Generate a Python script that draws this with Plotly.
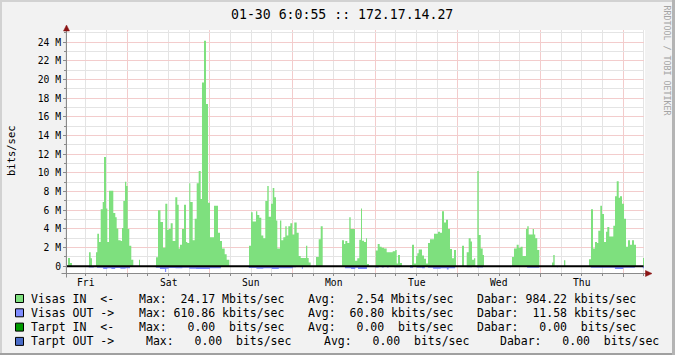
import plotly.graph_objects as go

# ---------------- data (hours since Fri 00:00, Mbit/s) ----------------
in_time = [
    6.79, 7.37, 7.95, 12.89, 13.38, 13.76, 14.92, 15.30, 15.80, 16.29, 16.87, 17.25, 17.83, 18.21, 18.70,
    19.95, 20.53, 20.93, 21.40, 22.10, 22.47, 22.85, 23.34, 23.72, 24.13, 24.59, 25.17, 25.76, 27.41, 27.70,
    32.35, 32.93, 33.65, 34.38, 35.05, 35.63, 36.03, 36.61, 37.19, 37.95, 38.53, 38.94, 39.31, 39.89, 40.48,
    41.06, 41.43, 42.01, 42.31, 43.00, 43.58, 44.16, 44.74, 45.32, 45.70, 46.28, 46.86, 47.44, 48.02, 49.19,
    50.35, 50.93, 51.51, 52.29, 52.87, 53.63,
    59.35, 59.93, 60.42, 61.38, 61.76, 62.34, 62.92, 63.50, 64.08, 64.66, 65.07, 65.74, 66.23, 66.70, 67.19,
    67.57, 68.35, 68.73, 69.31, 69.89, 70.29, 70.76, 71.34, 71.92, 72.50, 73.20, 73.78, 74.36, 75.90, 76.28,
    76.68, 77.26, 78.80, 79.59, 80.17, 80.75,
    86.35, 86.93, 87.31, 87.89, 88.47, 88.87, 90.12, 90.79, 91.37, 91.87, 92.16, 92.74, 93.32, 93.61, 94.19,
    96.14, 96.72, 97.30, 97.88, 98.55, 99.33, 101.07, 101.83, 102.23, 102.61, 103.19, 103.77,
    106.10, 106.68, 107.26, 107.84, 108.22, 108.62, 109.58, 110.16, 110.74, 111.32, 111.90, 113.06, 114.22,
    114.81, 115.39, 115.97, 116.55, 117.13, 117.71, 118.29, 118.87, 119.45, 121.20, 121.78, 122.56, 123.14,
    123.72, 124.10, 124.68, 125.06, 125.64, 126.05, 126.63, 127.21, 127.58,
    135.71, 136.29, 137.07, 137.65, 138.23, 138.81, 139.77, 140.15, 140.56, 141.14, 141.72, 142.10, 142.47,
    143.05, 143.64, 147.33, 147.70, 148.11, 150.81, 151.19,
    158.07, 158.65, 159.23, 159.81, 160.39, 160.77, 161.35, 161.84, 162.43, 163.01, 163.39, 163.97, 165.13,
    165.62, 166.12, 166.70, 167.07, 167.66, 168.24, 168.82, 169.40, 169.98, 170.56, 171.14, 171.72, 173.75,
    174.04,
]
in_rate = [
    0.9, 0.35, 0, 1.5, 0.85, 0, 1.5, 3.5, 2.6, 6.1, 6.9, 11.7, 6.2, 2.6, 8.1,
    5.7, 5.25, 4.05, 2.8, 2.7, 4.1, 7.0, 9.05, 8.6, 4.0, 2.2, 0.7, 0, 0.7, 0,
    0.96, 6.0, 4.75, 2.0, 6.7, 3.9, 4.0, 4.6, 2.7, 7.4, 6.6, 1.9, 2.3, 4.0, 6.6,
    2.6, 2.5, 8.9, 6.9, 2.8, 5.1, 8.9, 10.2, 7.2, 19.7, 24.17, 17.4, 6.8, 3.1, 6.5,
    3.6, 2.7, 1.9, 1.3, 0.7, 0,
    2.2, 5.8, 4.8, 5.9, 5.5, 5.2, 3.3, 3.0, 7.0, 8.6, 5.3, 6.7, 8.4, 7.4, 4.9,
    1.9, 4.9, 2.8, 3.1, 4.3, 3.3, 4.3, 4.6, 3.4, 4.7, 3.6, 1.1, 0.9, 2.2, 0.9,
    0.4, 0, 1.0, 2.9, 4.3, 0,
    2.8, 2.4, 2.7, 2.5, 5.25, 4.0, 0.6, 0.86, 2.85, 6.2, 2.75, 2.6, 3.0, 0.25, 0,
    1.7, 2.4, 2.1, 2.0, 1.9, 1.5, 1.6, 1.75, 0.3, 1.2, 0.35, 0,
    0.15, 2.3, 0.3, 1.1, 1.4, 1.8, 1.15, 0.8, 0.3, 2.5, 2.9, 3.5, 3.7,
    3.6, 5.9, 4.7, 5.0, 4.0, 1.85, 0.85, 1.75, 0, 2.2, 0, 1.5, 3.0,
    2.65, 0.7, 0.85, 0, 10.2, 3.35, 1.9, 1.2, 0,
    1.0, 1.9, 2.3, 2.0, 2.1, 1.1, 4.0, 4.3, 3.4, 3.4, 4.0, 3.4, 3.0,
    1.75, 0, 0.4, 1.2, 0, 0.65, 0,
    0.75, 6.1, 1.9, 2.6, 2.5, 3.8, 6.5, 5.6, 2.6, 3.7, 4.2, 3.2, 4.35,
    7.5, 9.1, 7.35, 7.5, 6.7, 5.1, 2.1, 2.8, 2.3, 2.8, 2.3, 0, 0.9,
    0,
]
out_time = [
    12.8, 14.3, 15.2, 17.0, 18.2, 19.4, 20.5, 22.0, 23.5, 24.8,
    32.3, 33.5, 34.95, 35.3, 36.0, 38.0, 40.0, 42.0, 44.0, 46.0, 48.0, 51.2,
    59.3, 61.5, 63.5, 66.0, 68.0, 72.1, 73.0, 74.7, 75.0,
    87.2, 89.0, 90.2, 91.0, 93.6, 96.0, 97.0, 97.9, 98.5, 99.4, 99.9, 101.5, 103.2,
    106.1, 107.0, 108.0, 109.6, 110.4, 111.3, 112.8, 115.0, 116.8, 117.3, 119.2, 122.6, 124.1, 125.5, 127.3,
    135.1, 135.4, 140.1, 143.6, 148.8, 149.1,
    158.6, 165.6, 168.0, 171.4, 173.7, 174.04,
]
out_rate = [
    -0.12, 0, -0.15, -0.3, -0.2, -0.28, -0.18, -0.25, -0.2, 0,
    -0.15, -0.3, -0.62, -0.25, -0.18, -0.22, -0.15, -0.25, -0.3, -0.3, -0.2, 0,
    -0.18, -0.25, -0.2, -0.28, -0.2, -0.1, 0, -0.25, 0,
    -0.2, -0.3, -0.15, -0.28, 0, -0.12, 0, -0.12, 0, -0.12, 0, -0.1, 0,
    -0.15, 0, -0.15, -0.22, 0, -0.15, -0.25, -0.2, -0.35, -0.2, 0, -0.1, 0, -0.12, 0,
    -0.1, 0, -0.15, 0, -0.1, 0,
    -0.15, -0.3, -0.15, 0, -0.2, 0,
]

day_names = ["Fri", "Sat", "Sun", "Mon", "Tue", "Wed", "Thu"]
day_noon = [12, 36, 60, 84, 108, 132, 156]
midnights = [24, 48, 72, 96, 120, 144, 168]
six_hours = [h for h in range(6, 175, 6) if h % 24 != 0]
y_ticks = [0, 2, 4, 6, 8, 10, 12, 14, 16, 18, 20, 22, 24]
y_minor = [1, 3, 5, 7, 9, 11, 13, 15, 17, 19, 21, 23, 25]
y_tick_text = ["0"] + [f"{v} M" for v in y_ticks[1:]]

title_text = "01-30 6:0:55 :: 172.17.14.27"
legend_names = ["Visas IN  <-", "Visas OUT ->", "Tarpt IN  <-", "Tarpt OUT ->"]
legend_colors = ["#7ee07e", "#7f8cff", "#009a00", "#4a6cc8"]
legend_max = [24.17, 610.86, 0.00, 0.00]
legend_max_u = ["Mbits/sec", "kbits/sec", "bits/sec", "bits/sec"]
legend_avg = [2.54, 60.80, 0.00, 0.00]
legend_avg_u = ["Mbits/sec", "kbits/sec", "bits/sec", "bits/sec"]
legend_cur = [984.22, 11.58, 0.00, 0.00]
legend_cur_u = ["kbits/sec", "kbits/sec", "bits/sec", "bits/sec"]

# ---------------- layout geometry ----------------
W, H = 675, 355
ML, MR, MT, MB = 67, 30, 30, 82
PW, PH = W - ML - MR, H - MT - MB
MONO = "DejaVu Sans Mono"
X_RANGE = [(ML - 44.6) / 3.444, (W - MR - 44.6) / 3.444]
Y_RANGE = [(266.3 - (H - MB)) / 9.333, (266.3 - MT) / 9.333]


def px(x):
    return (x - ML) / PW


def py(y):
    return (H - MB - y) / PH


def xscreen(h):
    return ML + (h - X_RANGE[0]) / (X_RANGE[1] - X_RANGE[0]) * PW


def yscreen(v):
    return MT + (Y_RANGE[1] - v) / (Y_RANGE[1] - Y_RANGE[0]) * PH


def crisp(p):
    return int(p) + 0.5


fig = go.Figure()
fig.add_trace(go.Scatter(x=in_time, y=in_rate, mode="lines", line=dict(shape="hv", width=0, color="#7ee07e"),
                         fill="tozeroy", fillcolor="#7ee07e", hoverinfo="skip", showlegend=False))
fig.add_trace(go.Scatter(x=out_time, y=out_rate, mode="lines", line=dict(shape="hv", width=0, color="#7f8cff"),
                         fill="tozeroy", fillcolor="#7f8cff", hoverinfo="skip", showlegend=False))

grid_major = "#f3cccc"
grid_minor = "#e4e4e4"
axis_col = "#8a8a8a"

fig.update_layout(
    width=W, height=H, autosize=False,
    margin=dict(l=ML, r=MR, t=MT, b=MB, pad=0),
    paper_bgcolor="#f2f2f2", plot_bgcolor="#ffffff",
    showlegend=False,
    xaxis=dict(range=X_RANGE, tickmode="array", tickvals=midnights,
               showticklabels=False, ticks="outside", ticklen=3, tickcolor=axis_col, tickwidth=1,
               showgrid=False,
               minor=dict(tickmode="array", tickvals=six_hours, ticks="outside", ticklen=2, tickcolor=axis_col,
                          showgrid=False),
               zeroline=False, showline=False, fixedrange=True),
    yaxis=dict(range=Y_RANGE, tickmode="array", tickvals=y_ticks,
               ticktext=y_tick_text, ticks="outside", ticklen=3, tickcolor=axis_col, tickwidth=1,
               tickfont=dict(family=MONO, size=9.7, color="#000000"),
               showgrid=False,
               minor=dict(tickmode="array", tickvals=y_minor, ticks="outside", ticklen=2, tickcolor=axis_col,
                          showgrid=False),
               zeroline=False, showline=False, fixedrange=True),
)

shapes = []
# grid (solid, light: visual average of the dotted rrdtool grid), snapped to pixel centres
for vals, col in ((six_hours, grid_minor), (midnights, grid_major)):
    for h in vals:
        xp = px(crisp(xscreen(h)))
        shapes.append(dict(type="line", xref="paper", yref="paper", x0=xp, x1=xp, y0=py(273), y1=py(30),
                           line=dict(color=col, width=1), layer="below"))
for vals, col in ((y_minor, grid_minor), (y_ticks[1:], grid_major)):
    for v in vals:
        yp = py(crisp(yscreen(v)))
        shapes.append(dict(type="line", xref="paper", yref="paper", x0=px(67), x1=px(644), y0=yp, y1=yp,
                           line=dict(color=col, width=1), layer="below"))
# zero rule
shapes.append(dict(type="line", xref="paper", yref="y", x0=px(66), x1=px(643.5), y0=0, y1=0,
                   line=dict(color="#000000", width=2), layer="above"))
# axes
shapes.append(dict(type="line", xref="paper", yref="paper", x0=px(61.5), x1=px(647), y0=py(273.5), y1=py(273.5),
                   line=dict(color=axis_col, width=1), layer="above"))
shapes.append(dict(type="line", xref="paper", yref="paper", x0=px(66.5), x1=px(66.5), y0=py(277.5), y1=py(29),
                   line=dict(color=axis_col, width=1), layer="above"))
arrow_col = "#8b1414"
shapes.append(dict(type="path", xref="paper", yref="paper",
                   path=f"M {px(645.5)},{py(270.5)} L {px(652)},{py(273.5)} L {px(645.5)},{py(276.5)} Z",
                   fillcolor=arrow_col, line=dict(color=arrow_col, width=0.5), layer="above"))
shapes.append(dict(type="path", xref="paper", yref="paper",
                   path=f"M {px(63.5)},{py(31)} L {px(66.5)},{py(25)} L {px(69.5)},{py(31)} Z",
                   fillcolor=arrow_col, line=dict(color=arrow_col, width=0.5), layer="above"))
# frame shading
shapes.append(dict(type="line", xref="paper", yref="paper", x0=px(0), x1=px(675), y0=py(1), y1=py(1),
                   line=dict(color="#d2d2d2", width=2)))
shapes.append(dict(type="line", xref="paper", yref="paper", x0=px(1), x1=px(1), y0=py(0), y1=py(355),
                   line=dict(color="#d2d2d2", width=2)))
shapes.append(dict(type="line", xref="paper", yref="paper", x0=px(0), x1=px(675), y0=py(354), y1=py(354),
                   line=dict(color="#a0a0a0", width=2)))
shapes.append(dict(type="line", xref="paper", yref="paper", x0=px(673.5), x1=px(673.5), y0=py(0), y1=py(355),
                   line=dict(color="#b4b4b4", width=3)))

annotations = []
annotations.append(dict(text=title_text.replace(" ", "\u00a0"), xref="paper", yref="paper", x=px(341.5), y=py(14),
                        xanchor="center", yanchor="middle", showarrow=False,
                        font=dict(family=MONO, size=13.2, color="#000000")))
annotations.append(dict(text="RRDTOOL / TOBI OETIKER".replace(" ", "\u00a0"), xref="paper", yref="paper",
                        x=px(666.5), y=py(60), xanchor="center", yanchor="middle", textangle=90, showarrow=False,
                        font=dict(family=MONO, size=8.3, color="#a4a4a4")))
annotations.append(dict(text="bits/sec", xref="paper", yref="paper", x=px(11), y=py(151), textangle=-90,
                        xanchor="center", yanchor="middle", showarrow=False,
                        font=dict(family=MONO, size=10.5, color="#000000")))
for name, hx in zip(day_names, day_noon):
    annotations.append(dict(text=name, xref="x", yref="paper", x=hx, y=py(282), xanchor="center",
                            yanchor="middle", showarrow=False, font=dict(family=MONO, size=9.7, color="#000000")))

row_y = [298.5, 312.8, 327.1, 341.4]
block_x = [[137.8, 307.3, 475.5]] * 3 + [[145.0, 322.7, 498.7]]
for i in range(4):
    yy = row_y[i]
    shapes.append(dict(type="rect", xref="paper", yref="paper", x0=px(15.5), x1=px(23.5),
                       y0=py(yy - 4), y1=py(yy + 4), fillcolor=legend_colors[i],
                       line=dict(color="#000000", width=1)))
    texts = [legend_names[i],
             f"Max: {legend_max[i]:6.2f} {legend_max_u[i]:>9}",
             f"Avg: {legend_avg[i]:6.2f} {legend_avg_u[i]:>9}",
             f"Dabar: {legend_cur[i]:6.2f} {legend_cur_u[i]:>9}"]
    xs = [29.5] + block_x[i]
    for t, xx in zip(texts, xs):
        annotations.append(dict(text=t.replace(" ", "\u00a0"), xref="paper", yref="paper", x=px(xx), y=py(yy),
                                xanchor="left", yanchor="middle", showarrow=False, borderpad=0,
                                font=dict(family=MONO, size=11.5, color="#000000")))

fig.update_layout(shapes=shapes, annotations=annotations)
fig.write_html("out.html")
